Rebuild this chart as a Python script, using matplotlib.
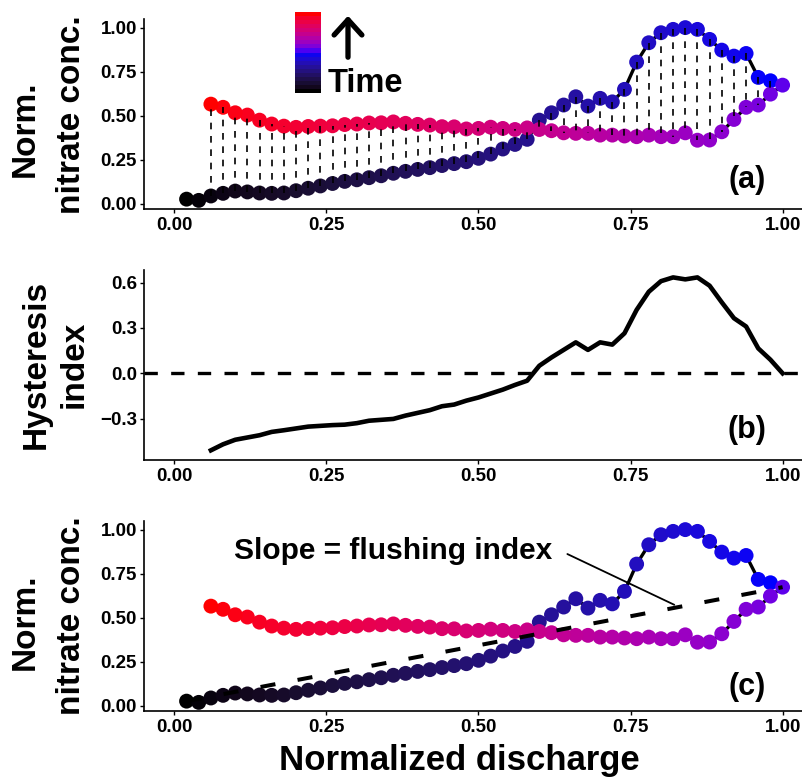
import numpy as np
import matplotlib
matplotlib.use("Agg")
import matplotlib.pyplot as plt
import matplotlib.colors as mcolors

plt.rcParams["font.family"] = ["Liberation Sans", "DejaVu Sans"]
plt.rcParams["font.weight"] = "bold"

# normalized discharge of the interpolated points (rising limb, incl. peak)
discharge = [0.02, 0.04, 0.06, 0.08, 0.10, 0.12, 0.14, 0.16, 0.18, 0.20,
             0.22, 0.24, 0.26, 0.28, 0.30, 0.32, 0.34, 0.36, 0.38, 0.40,
             0.42, 0.44, 0.46, 0.48, 0.50, 0.52, 0.54, 0.56, 0.58, 0.60,
             0.62, 0.64, 0.66, 0.68, 0.70, 0.72, 0.74, 0.76, 0.78, 0.80,
             0.82, 0.84, 0.86, 0.88, 0.90, 0.92, 0.94, 0.96, 0.98, 1.00]
rise_conc = [0.025, 0.018, 0.043, 0.058, 0.071, 0.066, 0.060, 0.058, 0.060, 0.073,
             0.087, 0.100, 0.114, 0.126, 0.135, 0.147, 0.158, 0.172, 0.183, 0.194,
             0.204, 0.216, 0.227, 0.238, 0.257, 0.281, 0.310, 0.336, 0.365, 0.474,
             0.516, 0.560, 0.607, 0.554, 0.598, 0.578, 0.649, 0.804, 0.914, 0.971,
             0.990, 1.000, 0.990, 0.933, 0.872, 0.838, 0.853, 0.717, 0.698, 0.673]

# falling limb, listed from low to high discharge (0.06 ... 0.98)
fall_q = discharge[2:49]
fall_conc = [0.565, 0.547, 0.516, 0.503, 0.474, 0.452, 0.440, 0.433, 0.438, 0.440,
             0.442, 0.449, 0.452, 0.458, 0.459, 0.464, 0.456, 0.450, 0.446, 0.437,
             0.436, 0.424, 0.427, 0.434, 0.427, 0.421, 0.430, 0.421, 0.414, 0.402,
             0.399, 0.399, 0.389, 0.389, 0.384, 0.380, 0.389, 0.380, 0.380, 0.402,
             0.360, 0.361, 0.408, 0.478, 0.547, 0.560, 0.622]

# hysteresis index, discharge 0.06 ... 1.00
hi_q = discharge[2:]
hi = [-0.51, -0.47, -0.44, -0.425, -0.41, -0.388, -0.377, -0.365, -0.353, -0.348,
      -0.343, -0.34, -0.33, -0.314, -0.308, -0.302, -0.28, -0.262, -0.244, -0.218,
      -0.207, -0.181, -0.16, -0.134, -0.108, -0.077, -0.049, 0.05, 0.105, 0.155,
      0.205, 0.155, 0.205, 0.19, 0.265, 0.42, 0.54, 0.61, 0.635, 0.622,
      0.635, 0.58, 0.47, 0.365, 0.31, 0.165, 0.09, 0.0]

# position on the time colour scale (0 = start, 1 = end of event)
rise_time = (0.0, 0.5)
peak_time = 0.54
fall_time = (0.56, 1.0)

tick_vals = [0, 0.25, 0.5, 0.75, 1.0]
tick_labels = ["0.00", "0.25", "0.50", "0.75", "1.00"]
hi_ticks = [-0.3, 0.0, 0.3, 0.6]
hi_labels = ["\u22120.3", "0.0", "0.3", "0.6"]


# ggplot-like colour gradient black -> blue -> red interpolated in Lab space
WHITE = np.array([0.95047, 1.0, 1.08883])
M = np.array([[0.4124, 0.3576, 0.1805],
              [0.2126, 0.7152, 0.0722],
              [0.0193, 0.1192, 0.9505]])


def to_lab(col):
    rgb = np.array(mcolors.to_rgb(col))
    lin = np.where(rgb <= 0.04045, rgb / 12.92, ((rgb + 0.055) / 1.055) ** 2.4)
    xyz = M @ lin / WHITE
    f = np.where(xyz > 0.008856, np.cbrt(xyz), 7.787 * xyz + 16 / 116)
    return np.array([116 * f[1] - 16, 500 * (f[0] - f[1]), 200 * (f[1] - f[2])])


def from_lab(lab):
    L, a, b = lab
    fy = (L + 16) / 116
    f = np.array([fy + a / 500, fy, fy - b / 200])
    xyz = np.where(f > 0.2069, f ** 3, (f - 16 / 116) / 7.787) * WHITE
    lin = np.clip(np.linalg.solve(M, xyz), 0, 1)
    rgb = np.where(lin <= 0.0031308, 12.92 * lin, 1.055 * lin ** (1 / 2.4) - 0.055)
    return np.clip(rgb, 0, 1)


LAB = [to_lab("black"), to_lab("blue"), to_lab("red")]


def time_colour(t):
    if t <= 0.5:
        u = t / 0.5
        lab = LAB[0] + u * (LAB[1] - LAB[0])
    else:
        u = (t - 0.5) / 0.5
        lab = LAB[1] + u * (LAB[2] - LAB[1])
    return from_lab(lab)


t_rise = np.linspace(rise_time[0], rise_time[1], len(discharge) - 1)
t_fall = np.linspace(fall_time[1], fall_time[0], len(fall_q))
pt_q = discharge + fall_q[::-1]
pt_c = rise_conc + fall_conc[::-1]
pt_t = list(t_rise) + [peak_time] + list(t_fall[::-1])
pt_col = [time_colour(t) for t in pt_t]

W, H = 803, 778
fig = plt.figure(figsize=(W / 100, H / 100), dpi=100)


def add_axes(top_px):
    ax = fig.add_axes([144 / W, 1 - (top_px + 190) / H, 669 / W, 190 / H])
    ax.set_xlim(-0.05, 1.05)
    for s in ["top", "right"]:
        ax.spines[s].set_visible(False)
    for s in ["left", "bottom"]:
        ax.spines[s].set_linewidth(1.2)
    ax.tick_params(length=2.9, width=1.0, labelsize=13.5, pad=2.2)
    ax.tick_params(axis="x", pad=3.2)
    ax.set_xticks(tick_vals)
    ax.set_xticklabels(tick_labels)
    return ax


def draw_loop(ax):
    ax.plot(pt_q, pt_c, color="black", lw=2.4, zorder=2, solid_joinstyle="round")
    ax.scatter(pt_q, pt_c, c=pt_col, s=115, linewidths=0, zorder=3)
    ax.set_ylim(-0.031, 1.049)
    ax.set_yticks(tick_vals)
    ax.set_yticklabels(tick_labels)


# (a) concentration-discharge loop with hysteresis differences
ax1 = add_axes(19)
draw_loop(ax1)
ax1.vlines(fall_q, rise_conc[2:49], fall_conc, colors="black",
           linestyles=[(0, (4, 4))], lw=1.2, zorder=4)
ax1.text(0.901, 0.153, "(a)", transform=ax1.transAxes, fontsize=22,
         ha="center", va="center")

# (b) hysteresis index
ax2 = add_axes(270)
ax2.plot(hi_q, hi, color="black", lw=3.3, solid_joinstyle="round")
ax2.axhline(0, color="black", lw=2.4, ls=(0, (4, 4)))
ax2.set_ylim(-0.574, 0.684)
ax2.set_yticks(hi_ticks)
ax2.set_yticklabels(hi_labels)
ax2.text(0.901, 0.158, "(b)", transform=ax2.transAxes, fontsize=22,
         ha="center", va="center")

# (c) flushing index
ax3 = add_axes(521)
draw_loop(ax3)
ax3.plot([discharge[0], discharge[-1]], [rise_conc[0], rise_conc[-1]],
         color="black", lw=2.9, ls=(0, (3.75, 5.6)), zorder=4)
ax3.text(0.359, 0.833, "Slope = flushing index", fontsize=21.5,
         ha="center", va="baseline")
ax3.annotate("", xy=(0.826, 0.566), xytext=(0.642, 0.868),
             arrowprops=dict(arrowstyle="-", lw=1.3, color="black"))
ax3.text(0.901, 0.124, "(c)", transform=ax3.transAxes, fontsize=22,
         ha="center", va="center")


# axis titles
def ylab(x_px, y_px, text):
    fig.text(x_px / W, 1 - y_px / H, text, rotation=90, rotation_mode="anchor",
             ha="center", va="baseline", fontsize=24)


ylab(34, 129, "Norm.")
ylab(80, 115, "nitrate conc.")
ylab(45, 364, "Hysteresis")
ylab(83, 364, "index")
ylab(34, 622, "Norm.")
ylab(80, 616, "nitrate conc.")
fig.text(459 / W, 1 - 770 / H, "Normalized discharge", fontsize=25,
         ha="center", va="baseline")

# time legend
cax = fig.add_axes([295 / W, 1 - 93 / H, 26 / W, 81 / H])
bins = np.array([time_colour(t) for t in np.linspace(0, 1, 20)])
cax.imshow(bins[:, None, :], origin="lower", aspect="auto", interpolation="nearest")
cax.axis("off")
fig.text(328 / W, 1 - 91.7 / H, "Time", fontsize=23.5, ha="left", va="baseline")
fig.add_artist(matplotlib.patches.FancyArrowPatch(
    (348, H - 60), (348, H - 13), transform=None,
    arrowstyle="->, head_length=0.55, head_width=0.5", mutation_scale=20,
    lw=3.8, color="black"))

fig.savefig("out.png", dpi=100)
